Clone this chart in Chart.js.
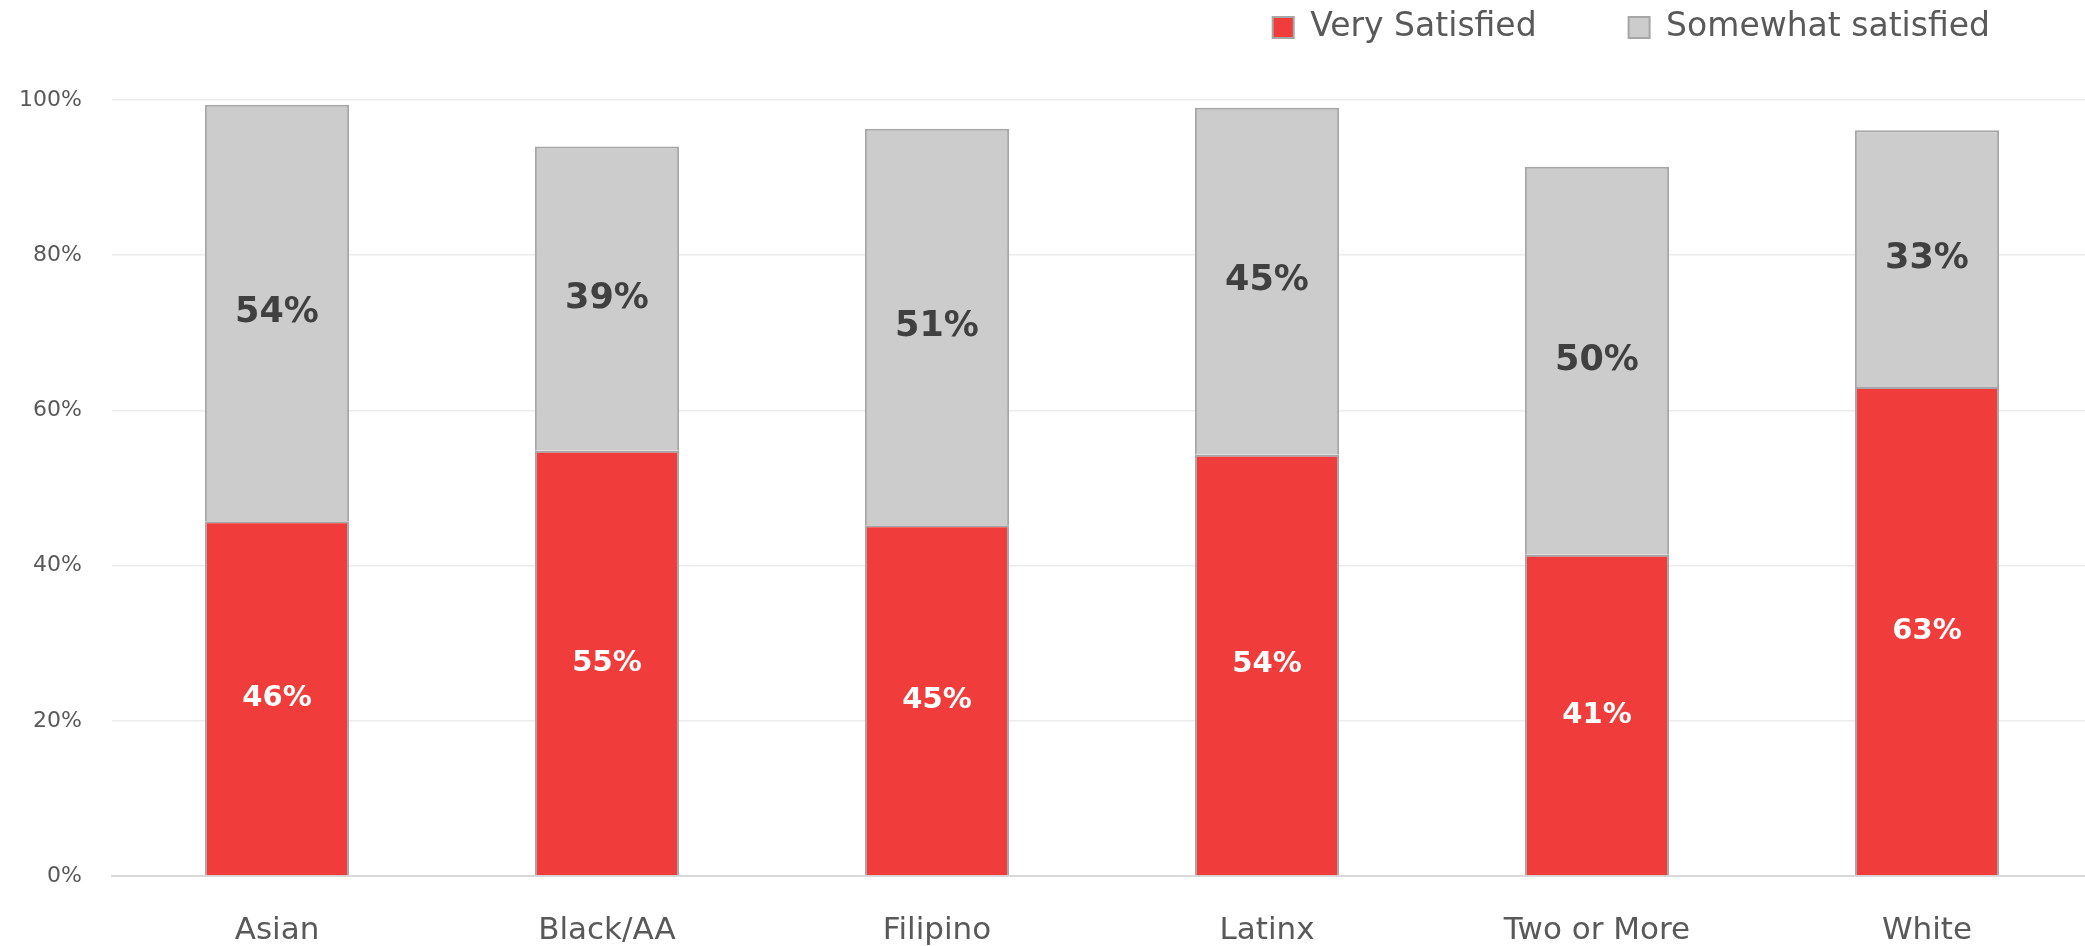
<!DOCTYPE html>
<html>
<head>
<meta charset="utf-8">
<title>Satisfaction by race/ethnicity</title>
<script src="https://cdn.jsdelivr.net/npm/chart.js@4.4.1/dist/chart.umd.min.js"></script>
<style>
  html, body { margin: 0; padding: 0; background: #fff; }
  #wrap { width: 2085px; height: 946px; position: relative; }
</style>
</head>
<body>
<div id="wrap"><canvas id="chart"></canvas></div>
<script>
// values (percent)
const categories = ['Asian', 'Black/AA', 'Filipino', 'Latinx', 'Two or More', 'White'];
const verySatisfied = [45.7, 54.8, 45.2, 54.3, 41.4, 63.0];
const somewhatSatisfied = [53.7, 39.2, 51.1, 44.7, 50.0, 33.1];
const yTicks = [0, 20, 40, 60, 80, 100];

const FONT = "'DejaVu Sans', 'Noto Sans', sans-serif";
const TEXT_GREY = '#595959';

// draws the rounded % inside each bar segment
const segmentLabels = {
  id: 'segmentLabels',
  afterDatasetsDraw(chart) {
    const ctx = chart.ctx;
    ctx.save();
    ctx.textAlign = 'center';
    ctx.textBaseline = 'middle';
    chart.data.datasets.forEach((ds, i) => {
      const meta = chart.getDatasetMeta(i);
      ctx.fillStyle = ds.labelColor;
      ctx.font = `bold ${ds.labelSize}px ${FONT}`;
      meta.data.forEach((bar, j) => {
        const y = (bar.y + bar.base) / 2;
        ctx.fillText(Math.round(ds.data[j]) + '%', bar.x, y);
      });
    });
    ctx.restore();
  }
};

// legend up in the top right corner; the plot runs a bit past the right edge
const layoutNudge = {
  id: 'layoutNudge',
  afterLayout(chart) {
    const lg = chart.legend;
    if (lg) {
      lg.top = 11 - lg.options.labels.padding;
      lg.right = chart.width - 3;
    }
    const x = chart.scales.x;
    x.right += 7;
    x.width += 7;
    x.configure();
  }
};

new Chart(document.getElementById('chart'), {
  type: 'bar',
  data: {
    labels: categories,
    datasets: [
      {
        label: 'Very Satisfied', data: verySatisfied,
        backgroundColor: '#f03c3a', borderColor: '#a6a6a6', borderWidth: 2,
        labelColor: '#ffffff', labelSize: 29
      },
      {
        label: 'Somewhat satisfied', data: somewhatSatisfied,
        backgroundColor: '#cccccc', borderColor: '#a6a6a6', borderWidth: 2,
        labelColor: '#404040', labelSize: 35
      }
    ]
  },
  options: {
    responsive: true,
    maintainAspectRatio: false,
    animation: false,
    categoryPercentage: 1,
    barPercentage: 0.437,
    layout: { padding: 0 },
    plugins: {
      tooltip: { enabled: false },
      legend: {
        position: 'top',
        align: 'end',
        maxHeight: 100,
        labels: {
          color: TEXT_GREY,
          font: { family: FONT, size: 33 },
          boxWidth: 21,
          boxHeight: 21,
          padding: 92
        }
      }
    },
    scales: {
      x: {
        stacked: true,
        afterFit(axis) { axis.height = 70; },
        grid: { display: false, drawTicks: false },
        border: { color: '#d9d9d9', width: 2 },
        ticks: { color: TEXT_GREY, font: { family: FONT, size: 31 }, padding: 36 }
      },
      y: {
        stacked: true,
        min: 0,
        max: 100,
        afterBuildTicks(axis) { axis.ticks = yTicks.map(v => ({ value: v })); },
        afterFit(axis) { axis.width = 112; },
        grid: { color: '#ececec', lineWidth: 1.5, drawTicks: false },
        border: { display: false },
        ticks: {
          color: TEXT_GREY,
          font: { family: FONT, size: 22 },
          padding: 30,
          callback: v => v + '%'
        }
      }
    }
  },
  plugins: [segmentLabels, layoutNudge]
});
</script>
</body>
</html>
